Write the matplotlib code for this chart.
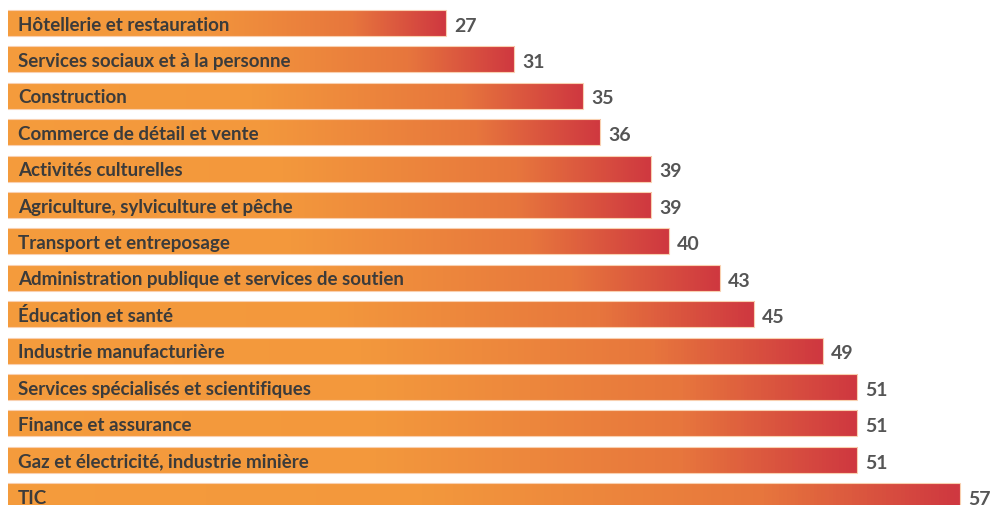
import numpy as np
import matplotlib.pyplot as plt
from matplotlib.colors import LinearSegmentedColormap
from matplotlib.patches import Rectangle

# Secteurs et valeurs (de haut en bas)
sectors = [
    'Hôtellerie et restauration',
    'Services sociaux et à la personne',
    'Construction',
    'Commerce de détail et vente',
    'Activités culturelles',
    'Agriculture, sylviculture et pêche',
    'Transport et entreposage',
    'Administration publique et services de soutien',
    'Éducation et santé',
    'Industrie manufacturière',
    'Services spécialisés et scientifiques',
    'Finance et assurance',
    'Gaz et électricité, industrie minière',
    'TIC',
]
values = [27, 31, 35, 36, 39, 39, 40, 43, 45, 49, 51, 51, 51, 57]

cmap = LinearSegmentedColormap.from_list(
    'orange_red', [(0.0, '#F59C3D'), (0.45, '#F3983C'), (0.8, '#E7763D'), (1.0, '#CF3840')])
grad = np.linspace(0, 1, 256).reshape(1, -1)

fig = plt.figure(figsize=(9.92, 5.06), dpi=100)
ax = fig.add_axes([8 / 992, 0, 1 - 8 / 992, 1])

px_per_unit = 17.13
x_left = (8 + 16.6) / px_per_unit
x_right = (992 + 16.6) / px_per_unit
ax.set_xlim(x_left, x_right)
ax.set_ylim(13.24, -0.659)

h = 0.714
for i, (name, v) in enumerate(zip(sectors, values)):
    ax.imshow(grad, cmap=cmap, aspect='auto', extent=(0, v, i + h / 2, i - h / 2),
              interpolation='bilinear', zorder=2)
    ax.add_patch(Rectangle((0, i - h / 2), v, h, fill=False, edgecolor='#F9D0B0',
                           linewidth=0.8, zorder=3))
    ax.text(x_left + 10 / px_per_unit, i + 0.03, name, va='center', ha='left',
            fontsize=13.5, fontweight='bold', family='Lato', color='#3B3B3B', zorder=4)
    ax.text(v + 8 / px_per_unit, i + 0.06, str(v), va='center', ha='left',
            fontsize=14, fontweight='bold', family='Lato', color='#555555', zorder=4)

ax.axis('off')
fig.savefig('out.png', dpi=100)
